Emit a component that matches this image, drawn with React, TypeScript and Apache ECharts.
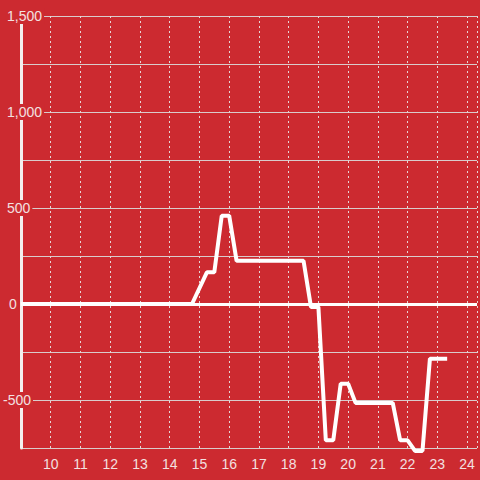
import React, { useEffect, useRef } from "react";
import * as echarts from "echarts";

const hours = [9, 14.75, 15.25, 15.5, 15.75, 16, 16.25, 18.5, 18.75, 19, 19.25, 19.5, 19.75, 20, 20.25, 21.5, 21.75, 22, 22.25, 22.5, 22.75, 23.33];
const values = [0, 0, 165, 165, 460, 460, 225, 225, -15, -15, -710, -710, -415, -415, -515, -515, -710, -710, -765, -765, -285, -285];
const yTickLabels: Record<string, string> = { "1500": "1,500", "1000": "1,000", "500": "500", "0": "0", "-500": "-500" };
const xTickLabels = [10, 11, 12, 13, 14, 15, 16, 17, 18, 19, 20, 21, 22, 23, 24];

const BG = "#cc2a30";
const TXT = "#f3e0e0";

export default function App() {
  const ref = useRef<HTMLDivElement>(null);
  useEffect(() => {
    if (!ref.current) return;
    const chart = echarts.init(ref.current, undefined, { renderer: "svg" });
    const spacer: Record<string, number> = { "1500": 4, "1000": 4, "500": 4, "0": 6, "-500": 0 };
    chart.setOption({
      animation: false,
      backgroundColor: BG,
      grid: { left: 20, right: 0, top: 16, bottom: 32, containLabel: false },
      xAxis: {
        type: "value",
        min: 9,
        max: 24.3333,
        interval: 1,
        axisLine: { show: false },
        axisTick: { show: false },
        axisLabel: {
          color: TXT,
          fontSize: 14,
          fontFamily: "Liberation Sans, Arial, sans-serif",
          margin: 9,
          showMinLabel: true,
          showMaxLabel: true,
          formatter: (v: number) => (xTickLabels.indexOf(v) >= 0 ? String(v) : ""),
        },
        splitLine: { show: true, lineStyle: { color: "#e6d6d6", type: [2, 3], width: 1 } },
      },
      yAxis: {
        type: "value",
        min: -750,
        max: 1500,
        interval: 250,
        axisLine: { show: true, lineStyle: { color: "#f4eeee", width: 3 } },
        axisTick: { show: false },
        axisLabel: {
          color: TXT,
          fontSize: 14,
          fontFamily: "Liberation Sans, Arial, sans-serif",
          align: "left",
          margin: 18,
          formatter: (v: number) => {
            const k = String(v);
            const t = yTickLabels[k];
            if (!t) return "";
            return `{s${spacer[k]}|}{t|${t}}`;
          },
          rich: {
            s0: { width: 0 },
            s4: { width: 4 },
            s6: { width: 6 },
            t: {
              color: TXT,
              fontSize: 14,
              fontFamily: "Liberation Sans, Arial, sans-serif",
              backgroundColor: BG,
              padding: [1, 2, 1, 0],
            },
          },
        },
        splitLine: { show: true, lineStyle: { color: "#d9cccc", width: 1 } },
      },
      series: [
        {
          type: "line",
          data: hours.map((h, i) => [h, values[i]]),
          showSymbol: false,
          symbol: "none",
          clip: false,
          lineStyle: { color: "#ffffff", width: 4 },
          markLine: {
            silent: true,
            symbol: ["none", "none"],
            label: { show: false },
            lineStyle: { color: "#ffffff", width: 3, type: "solid" },
            data: [{ yAxis: 0 }],
          },
        },
      ],
    });
    return () => chart.dispose();
  }, []);
  return <div ref={ref} style={{ width: 480, height: 480, position: "absolute", left: 0, top: 0 }} />;
}
